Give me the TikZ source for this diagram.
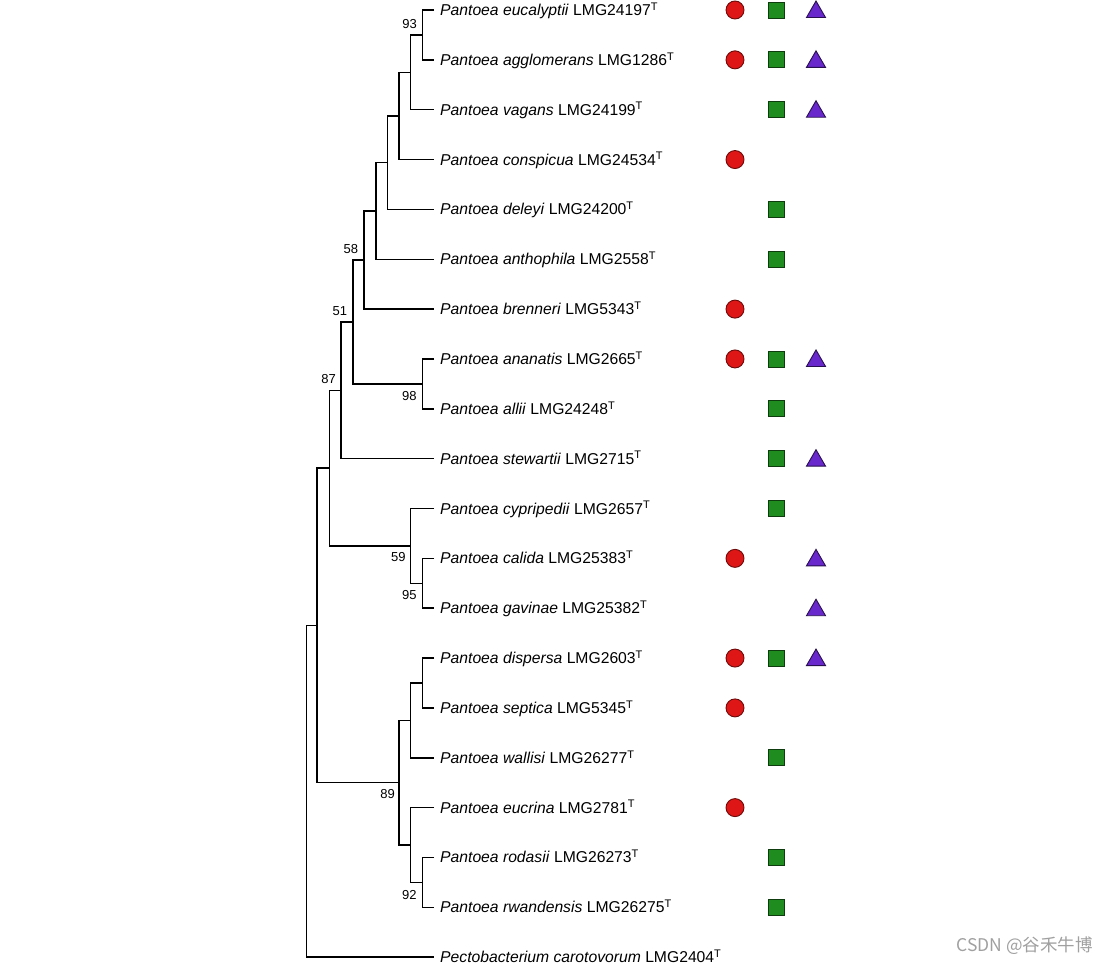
\documentclass[tikz,border=0pt]{standalone}
\usepackage{fontspec}
\setmainfont{Liberation Sans}
\newfontfamily\cjkfont{Noto Sans CJK SC}
\usetikzlibrary{positioning,shapes.geometric}
\definecolor{circred}{RGB}{222,22,22}
\definecolor{circedge}{RGB}{110,10,10}
\definecolor{sqgreen}{RGB}{30,140,30}
\definecolor{sqedge}{RGB}{15,60,15}
\definecolor{tripurple}{RGB}{104,40,204}
\definecolor{triedge}{RGB}{40,15,80}
\definecolor{wmgray}{RGB}{160,160,160}
\begin{document}
\begin{tikzpicture}[x=1pt,y=-1pt,
    branch/.style={line width=1.5pt},
    taxon/.style={anchor=west,inner xsep=6pt,inner ysep=0pt,text height=11pt,text depth=0pt,font=\fontsize{15.7}{18}\selectfont},
    boot/.style={inner sep=0pt,font=\fontsize{13}{15}\selectfont},
    redc/.style={circle,draw=circedge,fill=circred,minimum size=18pt,inner sep=0pt,line width=0.9pt},
    greens/.style={rectangle,draw=sqedge,fill=sqgreen,minimum size=16pt,inner sep=0pt,line width=0.9pt},
    purplet/.style={regular polygon,regular polygon sides=3,draw=triedge,fill=tripurple,minimum size=22pt,inner sep=0pt,line width=0.9pt,yshift=-2pt}]
    \useasboundingbox (0,0) rectangle (1108,966);
    % taxa
    \node[taxon] (euc) at (434,10) {\textit{Pantoea eucalyptii} LMG24197\textsuperscript{T}};
    \node[taxon] (agg) at (434,59.85) {\textit{Pantoea agglomerans} LMG1286\textsuperscript{T}};
    \node[taxon] (vag) at (434,109.7) {\textit{Pantoea vagans} LMG24199\textsuperscript{T}};
    \node[taxon] (con) at (434,159.55) {\textit{Pantoea conspicua} LMG24534\textsuperscript{T}};
    \node[taxon] (del) at (434,209.4) {\textit{Pantoea deleyi} LMG24200\textsuperscript{T}};
    \node[taxon] (ant) at (434,259.25) {\textit{Pantoea anthophila} LMG2558\textsuperscript{T}};
    \node[taxon] (bre) at (434,309.1) {\textit{Pantoea brenneri} LMG5343\textsuperscript{T}};
    \node[taxon] (ana) at (434,358.95) {\textit{Pantoea ananatis} LMG2665\textsuperscript{T}};
    \node[taxon] (all) at (434,408.8) {\textit{Pantoea allii} LMG24248\textsuperscript{T}};
    \node[taxon] (ste) at (434,458.65) {\textit{Pantoea stewartii} LMG2715\textsuperscript{T}};
    \node[taxon] (cyp) at (434,508.5) {\textit{Pantoea cypripedii} LMG2657\textsuperscript{T}};
    \node[taxon] (cal) at (434,558.35) {\textit{Pantoea calida} LMG25383\textsuperscript{T}};
    \node[taxon] (gav) at (434,608.2) {\textit{Pantoea gavinae} LMG25382\textsuperscript{T}};
    \node[taxon] (dis) at (434,658.05) {\textit{Pantoea dispersa} LMG2603\textsuperscript{T}};
    \node[taxon] (sep) at (434,707.9) {\textit{Pantoea septica} LMG5345\textsuperscript{T}};
    \node[taxon] (wal) at (434,757.75) {\textit{Pantoea wallisi} LMG26277\textsuperscript{T}};
    \node[taxon] (eucr) at (434,807.6) {\textit{Pantoea eucrina} LMG2781\textsuperscript{T}};
    \node[taxon] (rod) at (434,857.45) {\textit{Pantoea rodasii} LMG26273\textsuperscript{T}};
    \node[taxon] (rwa) at (434,907.3) {\textit{Pantoea rwandensis} LMG26275\textsuperscript{T}};
    \node[taxon] (pec) at (434,957.15) {\textit{Pectobacterium carotovorum} LMG2404\textsuperscript{T}};
    % inner nodes
    \coordinate (n93) at (422.7,34.9);
    \coordinate (nvag) at (410.7,72.3);
    \coordinate (ncon) at (399,115.9);
    \coordinate (ndel) at (387.7,162.7);
    \coordinate (nant) at (376,211);
    \coordinate (n58) at (364,260);
    \coordinate (n98) at (422.7,383.9);
    \coordinate (n51) at (353,322);
    \coordinate (n87) at (341,390.3);
    \coordinate (n95) at (422.7,583.3);
    \coordinate (n59) at (410.7,545.9);
    \coordinate (nbig) at (329.7,468.1);
    \coordinate (ndis) at (422.7,683);
    \coordinate (nwal) at (410.7,720.4);
    \coordinate (n92) at (422.7,882.4);
    \coordinate (neucr) at (410.7,845);
    \coordinate (n89) at (399,782.7);
    \coordinate (npan) at (317,625.4);
    \coordinate (root) at (306.7,791.3);
    % branches
    \draw[branch] (euc.west) -| (n93) |- (agg.west);
    \draw[branch] (n93) -| (nvag) |- (vag.west);
    \draw[branch] (nvag) -| (ncon) |- (con.west);
    \draw[branch] (ncon) -| (ndel) |- (del.west);
    \draw[branch] (ndel) -| (nant) |- (ant.west);
    \draw[branch] (nant) -| (n58) |- (bre.west);
    \draw[branch] (ana.west) -| (n98) |- (all.west);
    \draw[branch] (n58) -| (n51) |- (n98);
    \draw[branch] (n51) -| (n87) |- (ste.west);
    \draw[branch] (cal.west) -| (n95) |- (gav.west);
    \draw[branch] (cyp.west) -| (n59) |- (n95);
    \draw[branch] (n87) -| (nbig) |- (n59);
    \draw[branch] (dis.west) -| (ndis) |- (sep.west);
    \draw[branch] (ndis) -| (nwal) |- (wal.west);
    \draw[branch] (rod.west) -| (n92) |- (rwa.west);
    \draw[branch] (eucr.west) -| (neucr) |- (n92);
    \draw[branch] (nwal) -| (n89) |- (neucr);
    \draw[branch] (nbig) -| (npan) |- (n89);
    \draw[branch] (npan) -| (root) |- (pec.west);
    % bootstrap values
    \node[boot, above left=6.5pt and 5.75pt of n93] (b93) {93};
    \node[boot, above left=6.5pt and 5.75pt of n58] (b58) {58};
    \node[boot, above left=6pt and 5.75pt of n51] (b51) {51};
    \node[boot, above left=6.5pt and 5pt of n87] (b87) {87};
    \node[boot, below left=7pt and 6pt of n98] (b98) {98};
    \node[boot, below left=6.5pt and 5pt of n59] (b59) {59};
    \node[boot, below left=7pt and 6pt of n95] (b95) {95};
    \node[boot, below left=7pt and 4pt of n89] (b89) {89};
    \node[boot, below left=8pt and 6pt of n92] (b92) {92};
    % traits
    \node[redc] (euc-c) at (735,10) {};
    \node[greens] (euc-s) at (776,10) {};
    \node[purplet] (euc-t) at (816,10) {};
    \node[redc] (agg-c) at (735,59.85) {};
    \node[greens] (agg-s) at (776,59.85) {};
    \node[purplet] (agg-t) at (816,59.85) {};
    \node[greens] (vag-s) at (776,109.7) {};
    \node[purplet] (vag-t) at (816,109.7) {};
    \node[redc] (con-c) at (735,159.55) {};
    \node[greens] (del-s) at (776,209.4) {};
    \node[greens] (ant-s) at (776,259.25) {};
    \node[redc] (bre-c) at (735,309.1) {};
    \node[redc] (ana-c) at (735,358.95) {};
    \node[greens] (ana-s) at (776,358.95) {};
    \node[purplet] (ana-t) at (816,358.95) {};
    \node[greens] (all-s) at (776,408.8) {};
    \node[greens] (ste-s) at (776,458.65) {};
    \node[purplet] (ste-t) at (816,458.65) {};
    \node[greens] (cyp-s) at (776,508.5) {};
    \node[redc] (cal-c) at (735,558.35) {};
    \node[purplet] (cal-t) at (816,558.35) {};
    \node[purplet] (gav-t) at (816,608.2) {};
    \node[redc] (dis-c) at (735,658.05) {};
    \node[greens] (dis-s) at (776,658.05) {};
    \node[purplet] (dis-t) at (816,658.05) {};
    \node[redc] (sep-c) at (735,707.9) {};
    \node[greens] (wal-s) at (776,757.75) {};
    \node[redc] (eucr-c) at (735,807.6) {};
    \node[greens] (rod-s) at (776,857.45) {};
    \node[greens] (rwa-s) at (776,907.3) {};
    % watermark
    \node[anchor=east,text=wmgray,inner sep=0pt,font=\cjkfont\fontsize{17.5}{19}\selectfont] (wm) at (1093,946) {CSDN @谷禾牛博};
\end{tikzpicture}
\end{document}
